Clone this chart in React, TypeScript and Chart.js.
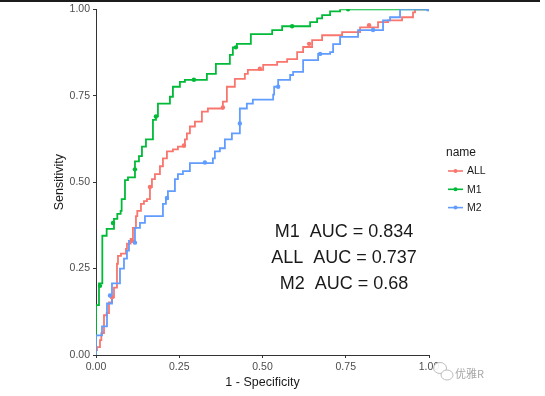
import React, { useEffect, useRef } from "react";
import { Chart, registerables } from "chart.js";

Chart.register(...registerables);

// ---- data ----
const seriesNames = ["ALL", "M1", "M2"];
const seriesColors = ["#F8766D", "#00BA38", "#619CFF"];
const aucLabels = ["0.737", "0.834", "0.68"];

const tickValues = [0, 0.25, 0.5, 0.75, 1];
const tickLabels = ["0.00", "0.25", "0.50", "0.75", "1.00"];

const allFpr = [0, 0, 0.003, 0.012, 0.016, 0.024, 0.032, 0.039, 0.048, 0.054, 0.063, 0.066, 0.075, 0.09, 0.093, 0.104, 0.111, 0.12, 0.124, 0.135, 0.144, 0.153, 0.162, 0.168, 0.177, 0.192, 0.201, 0.213, 0.231, 0.246, 0.267, 0.273, 0.282, 0.297, 0.318, 0.336, 0.381, 0.393, 0.417, 0.447, 0.456, 0.502, 0.544, 0.574, 0.604, 0.622, 0.649, 0.679, 0.739, 0.793, 0.847, 0.877, 0.919, 0.952, 0.958, 1];
const allTpr = [0, 0.014, 0.023, 0.043, 0.063, 0.115, 0.121, 0.152, 0.167, 0.195, 0.264, 0.287, 0.293, 0.307, 0.322, 0.336, 0.368, 0.402, 0.417, 0.437, 0.445, 0.451, 0.486, 0.509, 0.523, 0.546, 0.569, 0.589, 0.595, 0.603, 0.624, 0.641, 0.661, 0.675, 0.704, 0.713, 0.733, 0.776, 0.799, 0.813, 0.825, 0.839, 0.848, 0.856, 0.876, 0.891, 0.911, 0.925, 0.934, 0.948, 0.963, 0.968, 0.977, 0.991, 1, 1];

const m1Fpr = [0, 0, 0.009, 0.019, 0.032, 0.054, 0.064, 0.074, 0.077, 0.087, 0.096, 0.117, 0.129, 0.138, 0.15, 0.171, 0.18, 0.186, 0.222, 0.231, 0.252, 0.267, 0.333, 0.36, 0.402, 0.411, 0.423, 0.465, 0.529, 0.559, 0.643, 0.664, 0.679, 0.703, 0.733, 1];
const m1Tpr = [0, 0.144, 0.207, 0.345, 0.365, 0.394, 0.408, 0.417, 0.451, 0.506, 0.514, 0.56, 0.575, 0.603, 0.624, 0.68, 0.69, 0.727, 0.747, 0.776, 0.79, 0.796, 0.813, 0.842, 0.868, 0.89, 0.9, 0.928, 0.94, 0.951, 0.963, 0.974, 0.983, 0.994, 1, 1];

const m2Fpr = [0, 0, 0.018, 0.033, 0.048, 0.072, 0.084, 0.093, 0.099, 0.117, 0.132, 0.147, 0.201, 0.21, 0.216, 0.237, 0.246, 0.261, 0.282, 0.351, 0.357, 0.372, 0.387, 0.408, 0.432, 0.453, 0.471, 0.532, 0.535, 0.547, 0.583, 0.592, 0.622, 0.667, 0.703, 0.712, 0.733, 0.787, 0.862, 0.883, 0.913, 1];
const m2Tpr = [0, 0.057, 0.083, 0.149, 0.207, 0.25, 0.279, 0.302, 0.33, 0.368, 0.382, 0.402, 0.437, 0.451, 0.474, 0.509, 0.523, 0.532, 0.555, 0.569, 0.589, 0.598, 0.624, 0.641, 0.713, 0.727, 0.739, 0.753, 0.776, 0.796, 0.81, 0.819, 0.853, 0.871, 0.876, 0.899, 0.92, 0.94, 0.968, 0.977, 1, 1];

const allMarkFpr = [0.048, 0.108, 0.162, 0.264, 0.381, 0.492, 0.64, 0.82];
const allMarkTpr = [0.167, 0.33, 0.486, 0.606, 0.716, 0.828, 0.9, 0.954];
const m1MarkFpr = [0.012, 0.051, 0.117, 0.18, 0.294, 0.42, 0.589, 0.757];
const m1MarkTpr = [0.2, 0.382, 0.537, 0.69, 0.796, 0.89, 0.951, 1];
const m2MarkFpr = [0.042, 0.117, 0.213, 0.327, 0.432, 0.547, 0.673, 0.832, 0.997];
const m2MarkTpr = [0.172, 0.325, 0.454, 0.557, 0.67, 0.776, 0.871, 0.94, 1];

// annotation anchor (data units), in the order M1, ALL, M2
const aucOrder = [1, 0, 2];
const aucX = 0.745;
const aucY = [0.355, 0.28, 0.206];

const toPts = (xs: number[], ys: number[]) => xs.map((x, i) => ({ x, y: ys[i] }));

const FONT = "'Liberation Sans', Arial, sans-serif";

const extrasPlugin = {
  id: "extras",
  afterDraw(chart: any) {
    const ctx = chart.ctx as CanvasRenderingContext2D;
    const xs = chart.scales.x;
    const ys = chart.scales.y;
    ctx.save();
    // top dark band
    ctx.fillStyle = "#1c1c1c";
    ctx.fillRect(0, 0, 540, 2);

    // AUC annotations
    ctx.fillStyle = "#1a1a1a";
    ctx.font = `18px ${FONT}`;
    ctx.textAlign = "center";
    ctx.textBaseline = "middle";
    aucOrder.forEach((si, i) => {
      ctx.fillText(
        `${seriesNames[si]}  AUC = ${aucLabels[si]}`,
        xs.getPixelForValue(aucX),
        ys.getPixelForValue(aucY[i])
      );
    });

    // legend
    ctx.textAlign = "left";
    ctx.fillStyle = "#1a1a1a";
    ctx.font = `12px ${FONT}`;
    ctx.fillText("name", 446, 153);
    seriesNames.forEach((n, i) => {
      const y = 171 + i * 18.3;
      ctx.strokeStyle = seriesColors[i];
      ctx.lineWidth = 1.6;
      ctx.beginPath();
      ctx.moveTo(448, y);
      ctx.lineTo(463, y);
      ctx.stroke();
      ctx.fillStyle = seriesColors[i];
      ctx.beginPath();
      ctx.arc(455.5, y, 2, 0, Math.PI * 2);
      ctx.fill();
      ctx.fillStyle = "#1a1a1a";
      ctx.font = `10.5px ${FONT}`;
      ctx.fillText(n, 467, y + 0.5);
    });

    // watermark
    ctx.fillStyle = "rgba(255,255,255,0.92)";
    ctx.strokeStyle = "#bdbdbd";
    ctx.lineWidth = 1;
    ctx.beginPath();
    ctx.ellipse(440, 368, 6.5, 5.5, 0, 0, Math.PI * 2);
    ctx.fill();
    ctx.stroke();
    ctx.beginPath();
    ctx.ellipse(447, 375, 6, 5, 0, 0, Math.PI * 2);
    ctx.fill();
    ctx.stroke();
    ctx.fillStyle = "#a8a8a8";
    ctx.font = `11px 'Noto Sans CJK SC', sans-serif`;
    ctx.textAlign = "left";
    ctx.fillText("优雅R", 455, 374);
    ctx.restore();
  },
};

const axisCommon = (title: string, isX: boolean) => ({
  type: "linear" as const,
  min: 0,
  max: 1,
  afterBuildTicks: (s: any) => {
    s.ticks = tickValues.map((v) => ({ value: v }));
  },
  ticks: {
    autoSkip: false,
    maxRotation: 0,
    padding: 3,
    color: "#4d4d4d",
    font: { size: 10.5, family: FONT },
    callback: (v: any) => {
      const idx = tickValues.indexOf(Number(v));
      return idx >= 0 ? tickLabels[idx] : "";
    },
  },
  grid: {
    display: true,
    drawOnChartArea: false,
    drawTicks: true,
    tickLength: 3,
    color: "#333333",
    lineWidth: 1,
  },
  border: { display: true, color: "#333333", width: 1 },
  title: {
    display: true,
    text: title,
    color: "#1a1a1a",
    font: { size: 12.5, family: FONT },
    padding: isX ? { top: 0, bottom: 5.5 } : { top: 52, bottom: 0 },
  },
  afterFit: (s: any) => {
    if (isX) s.height = 41;
    else s.width = 96;
  },
});

export default function App() {
  const ref = useRef<HTMLCanvasElement | null>(null);
  useEffect(() => {
    document.body.style.margin = "0";
    const canvas = ref.current;
    if (!canvas) return;
    const curves = [toPts(allFpr, allTpr), toPts(m1Fpr, m1Tpr), toPts(m2Fpr, m2Tpr)];
    const marks = [
      toPts(allMarkFpr, allMarkTpr),
      toPts(m1MarkFpr, m1MarkTpr),
      toPts(m2MarkFpr, m2MarkTpr),
    ];
    const datasets: any[] = [];
    seriesNames.forEach((n, i) => {
      datasets.push({
        label: n,
        data: curves[i],
        borderColor: seriesColors[i],
        backgroundColor: seriesColors[i],
        borderWidth: 1.8,
        pointRadius: 0,
        stepped: "before",
        fill: false,
        order: 3 - i + 3,
      });
      datasets.push({
        label: n + " points",
        data: marks[i],
        showLine: false,
        borderColor: seriesColors[i],
        backgroundColor: seriesColors[i],
        pointRadius: 2.2,
        pointBorderWidth: 0,
        order: 3 - i,
      });
    });
    const chart = new Chart(canvas, {
      type: "line",
      data: { datasets },
      options: {
        responsive: false,
        animation: false,
        parsing: true,
        layout: { padding: { top: 7, right: 116, bottom: 0, left: 0 } },
        plugins: { legend: { display: false }, tooltip: { enabled: false } },
        scales: {
          x: axisCommon("1 - Specificity", true),
          y: axisCommon("Sensitivity", false),
        } as any,
      },
      plugins: [extrasPlugin],
    });
    return () => chart.destroy();
  }, []);
  return (
    <div style={{ width: 545, height: 396, background: "#fff" }}>
      <canvas ref={ref} width={545} height={396} style={{ display: "block" }} />
    </div>
  );
}
